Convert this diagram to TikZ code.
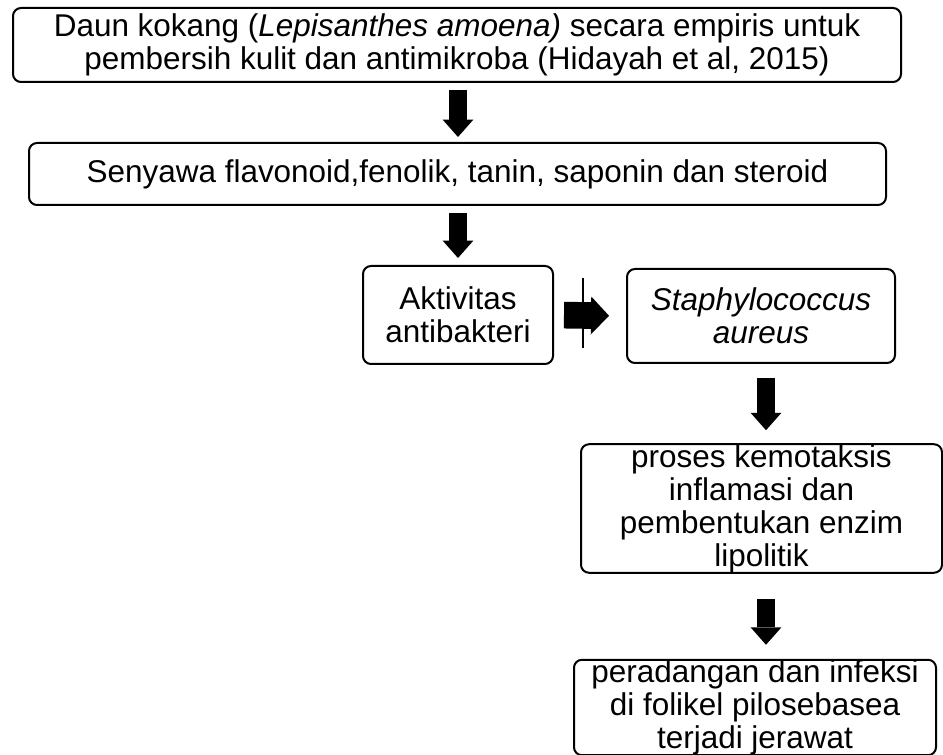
\documentclass[tikz,border=0pt]{standalone}
\usepackage{fontspec}
\setmainfont{Liberation Sans}
\usetikzlibrary{arrows.meta}
\newcommand{\px}{0.75pt}
\tikzset{
  kotak/.style={draw, line width=1.5pt, rounded corners=6pt, inner sep=0pt,
    align=center, font=\fontsize{23.6}{24.8}\selectfont},
  panah/.style={line width=13.5pt, -{Triangle[width=23pt,length=13pt,line width=0pt]}},
  panahkanan/.style={line width=20pt, -{Triangle[width=28.5pt,length=13.5pt,line width=0pt]}},
}
\begin{document}
\begin{tikzpicture}[x=0.75pt,y=-0.75pt]
	\useasboundingbox (0,0) rectangle (943,755);
	%Kotak diagram
	\node[kotak, minimum width=888*\px, minimum height=74*\px] (daun) at (457,45)
		{Daun kokang (\textit{Lepisanthes amoena)} secara empiris untuk\\pembersih kulit dan antimikroba (Hidayah et al, 2015)};
	\node[kotak, minimum width=857*\px, minimum height=62*\px] (senyawa) at (457.5,174)
		{Senyawa flavonoid,fenolik, tanin, saponin dan steroid};
	\node[kotak, minimum width=190*\px, minimum height=98*\px] (aktivitas) at (458,315) {Aktivitas\\antibakteri};
	\node[kotak, minimum width=268*\px, minimum height=94*\px] (staph) at (761,316) {\textit{Staphylococcus}\\\textit{aureus}};
	\node[kotak, minimum width=361*\px, minimum height=127*\px] (proses) at (761.5,508.5)
		{proses kemotaksis\\inflamasi dan\\pembentukan enzim\\lipolitik};
	\node[kotak, minimum width=362*\px, minimum height=91*\px] (radang) at (755,707.5)
		{peradangan dan infeksi\\di folikel pilosebasea\\terjadi jerawat};
	%Panah
	\draw[panah, shorten <=7*\px, shorten >=5*\px] (daun.south -| 458,0) -- (senyawa.north -| 458,0);
	\draw[panah, shorten <=7*\px, shorten >=7*\px] (senyawa.south -| aktivitas) -- (aktivitas.north);
	\draw[panahkanan, shorten <=10*\px, shorten >=17*\px] (aktivitas.east) -- (staph.west);
	\draw[panah, shorten <=14*\px, shorten >=13*\px] (staph.south -| 766,0) -- (proses.north -| 766,0);
	\draw[panah, shorten <=25*\px, shorten >=14*\px] (proses.south -| 766,0) -- (radang.north -| 766,0);
	%Garis hambat
	\coordinate (h1) at (583,278);
	\coordinate (h2) at (583,348);
	\draw[line width=2pt] (h1) -- (h2);
\end{tikzpicture}
\end{document}
